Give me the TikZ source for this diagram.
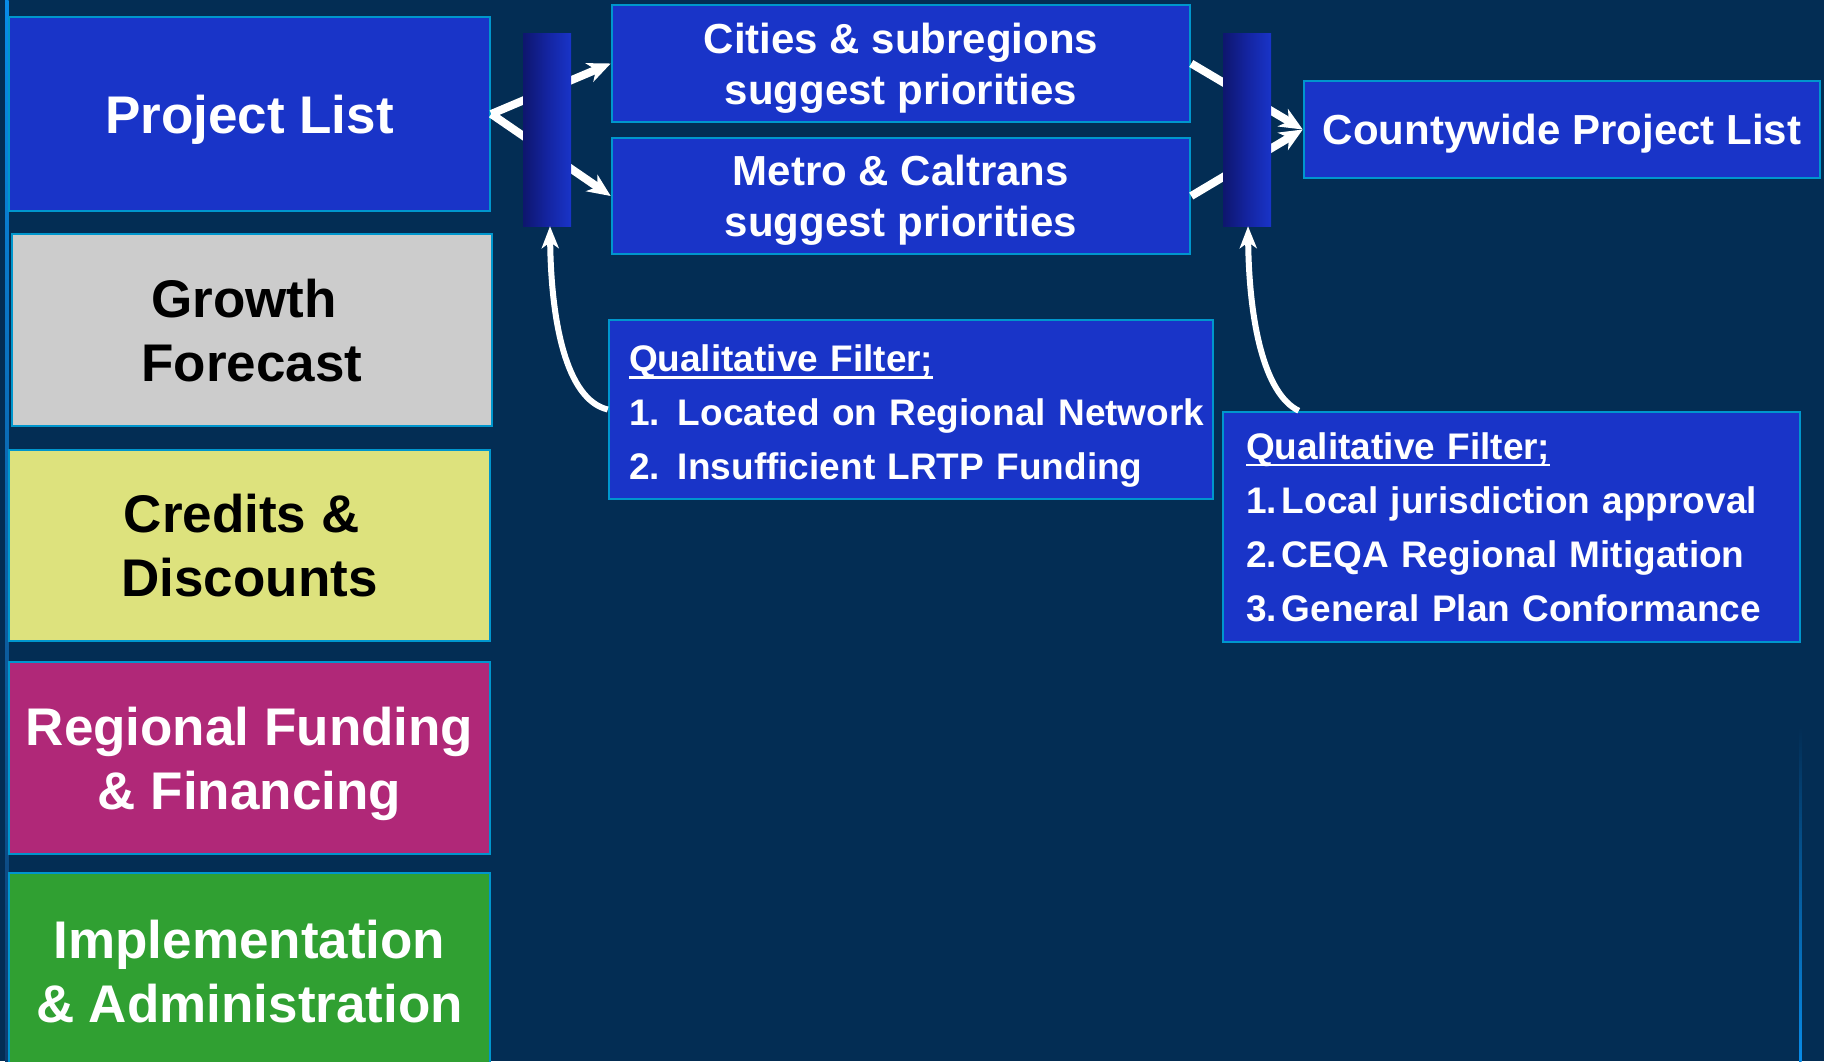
\documentclass[tikz,border=0pt]{standalone}
\usepackage{fontspec}
\setmainfont{Liberation Sans}
\usetikzlibrary{arrows.meta,calc}
\definecolor{bg}{RGB}{3,45,84}
\definecolor{boxblue}{RGB}{25,52,200}
\definecolor{bord}{RGB}{0,150,205}
\definecolor{gry}{RGB}{204,204,204}
\definecolor{ylw}{RGB}{221,226,125}
\definecolor{mag}{RGB}{176,40,120}
\definecolor{grn}{RGB}{48,160,50}
\definecolor{bardark}{RGB}{14,22,110}
\definecolor{barmid}{RGB}{20,36,160}
\definecolor{edgebright}{RGB}{8,140,232}
\definecolor{edgedark}{RGB}{14,62,112}
\newcommand\myul[1]{\setbox0=\hbox{#1}\rlap{\rule[-0.19em]{\wd0}{0.07em}}\box0}
\begin{document}
\begin{tikzpicture}[x=1bp,y=-1bp,
  base/.style={draw=bord, line width=2.5bp, inner sep=0pt, align=center},
  bluebox/.style={base, fill=boxblue, text=white},
  big/.style={font=\fontsize{53bp}{64bp}\selectfont\bfseries, text depth=0pt},
  mid/.style={font=\fontsize{42bp}{51bp}\selectfont\bfseries, text depth=0pt},
  filt/.style={font=\fontsize{37bp}{54bp}\selectfont\bfseries, align=left},
  bar/.style={minimum width=48bp, minimum height=193bp, inner sep=0pt, left color=bardark, right color=boxblue, middle color=barmid},
  conn/.style={draw=white, line width=8bp, -{Stealth[length=23bp,width=20bp,inset=7bp]}},
  curv/.style={draw=white, line width=6bp, -{Stealth[length=22bp,width=17bp,inset=6bp]}},
]
\useasboundingbox (0,0) rectangle (1824,1061);
\clip (0,0) rectangle (1824,1061);
\fill[bg] (0,0) rectangle (1824,1061);
% edge lines
\shade[top color=edgebright, bottom color=edgedark] (5,0) rectangle (8.5,1061);
\shade[top color=bg, bottom color=edgebright] (1799,727) rectangle (1801.5,1061);

% left column
\node[bluebox, big, minimum width=481bp, minimum height=194bp] (pl) at (249.5,114) {Project List};
\node[base, fill=gry, text=black, big, minimum width=480bp, minimum height=192bp] (gf) at (252,330) {Growth\kern0.3em\\Forecast};
\node[base, fill=ylw, text=black, big, minimum width=481bp, minimum height=191bp] (cd) at (249.5,545.5) {Credits \&\kern0.3em\\Discounts};
\node[base, fill=mag, text=white, big, minimum width=481bp, minimum height=192bp] (rf) at (249.5,758) {Regional Funding\\\& Financing};
\node[base, fill=grn, text=white, big, minimum width=481bp, minimum height=197bp] (ia) at (249.5,971.5) {Implementation\\\& Administration};

% middle and right boxes
\node[bluebox, mid, minimum width=578bp, minimum height=117bp] (cs) at (901,63.5) {Cities \& subregions\\suggest priorities};
\node[bluebox, mid, minimum width=578bp, minimum height=116bp] (mc) at (901,196) {Metro \& Caltrans\\suggest priorities};
\node[bluebox, mid, minimum width=516bp, minimum height=97bp] (cw) at (1562,129.5) {Countywide Project List};

\node[bluebox, filt, text width=564bp, minimum width=604bp, minimum height=179bp] (f1) at (911,409.5)
  {\mbox{\rule{0pt}{40bp}\myul{Qualitative Filter;}}\\
   \mbox{\makebox[49bp][l]{1.}Located on Regional Network}\\
   \mbox{\makebox[49bp][l]{2.}Insufficient LRTP Funding}};
\node[bluebox, filt, text width=531bp, minimum width=577bp, minimum height=230bp] (f2) at (1511.5,527)
  {\mbox{\myul{Qualitative Filter;}}\\
   \mbox{\makebox[36bp][l]{1.}Local jurisdiction approval}\\
   \mbox{\makebox[36bp][l]{2.}CEQA Regional Mitigation}\\
   \mbox{\makebox[36bp][l]{3.}General Plan Conformance}};

% straight connectors
\draw[conn] (pl.east) -- (cs.west);
\draw[conn] (pl.east) -- (mc.west);
\draw[conn] (cs.east) -- (cw.west);
\draw[conn] (mc.east) -- (cw.west);

% bars on top of connectors
\node[bar] (b1) at (547,129.5) {};
\node[bar] (b2) at (1247,129.5) {};

% curved connectors
\draw[curv] (f1.west) .. controls +(-42,-10) and +(1,94) .. ([xshift=3bp]b1.south);
\draw[curv] ([xshift=77bp]f2.north west) .. controls +(-35,-17) and +(1,94) .. ([xshift=1bp]b2.south);
\end{tikzpicture}
\end{document}
